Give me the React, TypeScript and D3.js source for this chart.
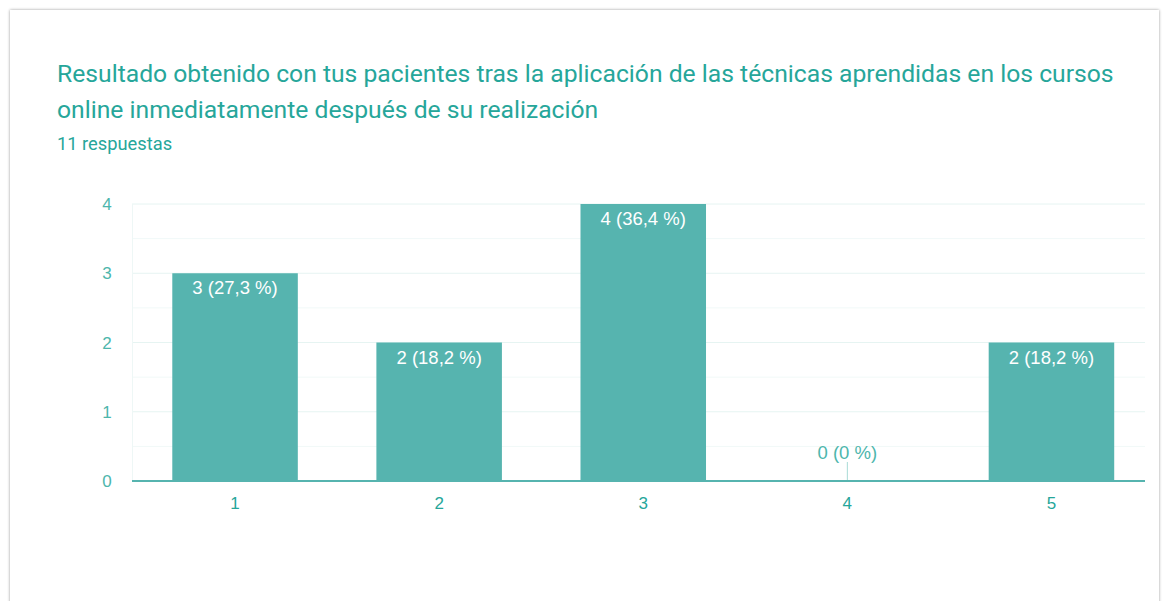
import React from "react";
import * as d3 from "d3";

const categories = ["1", "2", "3", "4", "5"];
const counts = [3, 2, 4, 0, 2];
const percentLabels = ["27,3 %", "18,2 %", "36,4 %", "0 %", "18,2 %"];
const yTicks = [0, 1, 2, 3, 4];
const titleLines = [
  "Resultado obtenido con tus pacientes tras la aplicación de las técnicas aprendidas en los cursos",
  "online inmediatamente después de su realización",
];
const subtitle = "11 respuestas";

const W = 1162;
const H = 601;
const teal = "#26a69a";
const barColor = "#56b4af";

export default function App() {
  const x = d3.scaleBand<string>().domain(categories).range([133, 1153.5]).paddingInner(0.385).paddingOuter(0.1925);
  const y = d3.scaleLinear().domain([0, 4]).range([481, 204]);
  const minor = d3.range(0.5, 4, 1);
  const font = "Roboto, 'Noto Sans', Arial, sans-serif";
  const labelFont = "'Liberation Sans', Arial, sans-serif";
  return (
    <svg width={W} height={H} style={{ position: "absolute", left: 0, top: 0, background: "#fff" }} fontFamily={font}>
      <defs>
        <filter id="sh" x="-5%" y="-5%" width="110%" height="110%">
          <feDropShadow dx="0" dy="0" stdDeviation="1.4" floodColor="#000" floodOpacity="0.4" />
        </filter>
      </defs>
      <rect x={10} y={10} width={1149} height={620} fill="#fff" filter="url(#sh)" />
      {titleLines.map((t, i) => (
        <text key={i} x={57} y={82 + i * 36} fontSize={24.7} fill={teal}>
          {t}
        </text>
      ))}
      <text x={57} y={150} fontSize={18.3} fill={teal}>
        {subtitle}
      </text>
      {minor.map((v) => (
        <line key={"m" + v} x1={132} x2={1145} y1={y(v)} y2={y(v)} stroke="#f1f9f8" strokeWidth={1} />
      ))}
      {yTicks.filter((v) => v > 0).map((v) => (
        <line key={"g" + v} x1={132} x2={1145} y1={y(v)} y2={y(v)} stroke="#e6f4f2" strokeWidth={1} />
      ))}
      <line x1={132.5} x2={132.5} y1={y(4)} y2={y(0)} stroke="#eef7f6" strokeWidth={1} />
      {yTicks.map((v) => (
        <text key={"t" + v} x={107} y={y(v) + 6} fontSize={17} fill="#4db6ac" textAnchor="middle" fontFamily={labelFont}>
          {v}
        </text>
      ))}
      {categories.map((c, i) => {
        const bx = x(c)!;
        const bw = x.bandwidth();
        const cx = bx + bw / 2;
        const v = counts[i];
        const label = `${v} (${percentLabels[i]})`;
        return (
          <g key={c}>
            {v > 0 ? (
              <>
                <rect x={bx} y={y(v)} width={bw} height={y(0) - y(v)} fill={barColor} />
                <text x={cx} y={y(v) + 21} fontSize={18.5} fill="#fff" textAnchor="middle" fontFamily={labelFont}>
                  {label}
                </text>
              </>
            ) : (
              <>
                <line x1={cx} x2={cx} y1={y(0)} y2={y(0) - 19} stroke="#a8dbd6" strokeWidth={1} />
                <text x={cx} y={y(0) - 22} fontSize={18.5} fill="#4db6ac" textAnchor="middle" fontFamily={labelFont}>
                  {label}
                </text>
              </>
            )}
            <text x={cx} y={509} fontSize={17} fill={teal} textAnchor="middle" fontFamily={labelFont}>
              {c}
            </text>
          </g>
        );
      })}
      <line x1={132} x2={1145} y1={y(0)} y2={y(0)} stroke="#56b4af" strokeWidth={2} />
    </svg>
  );
}
